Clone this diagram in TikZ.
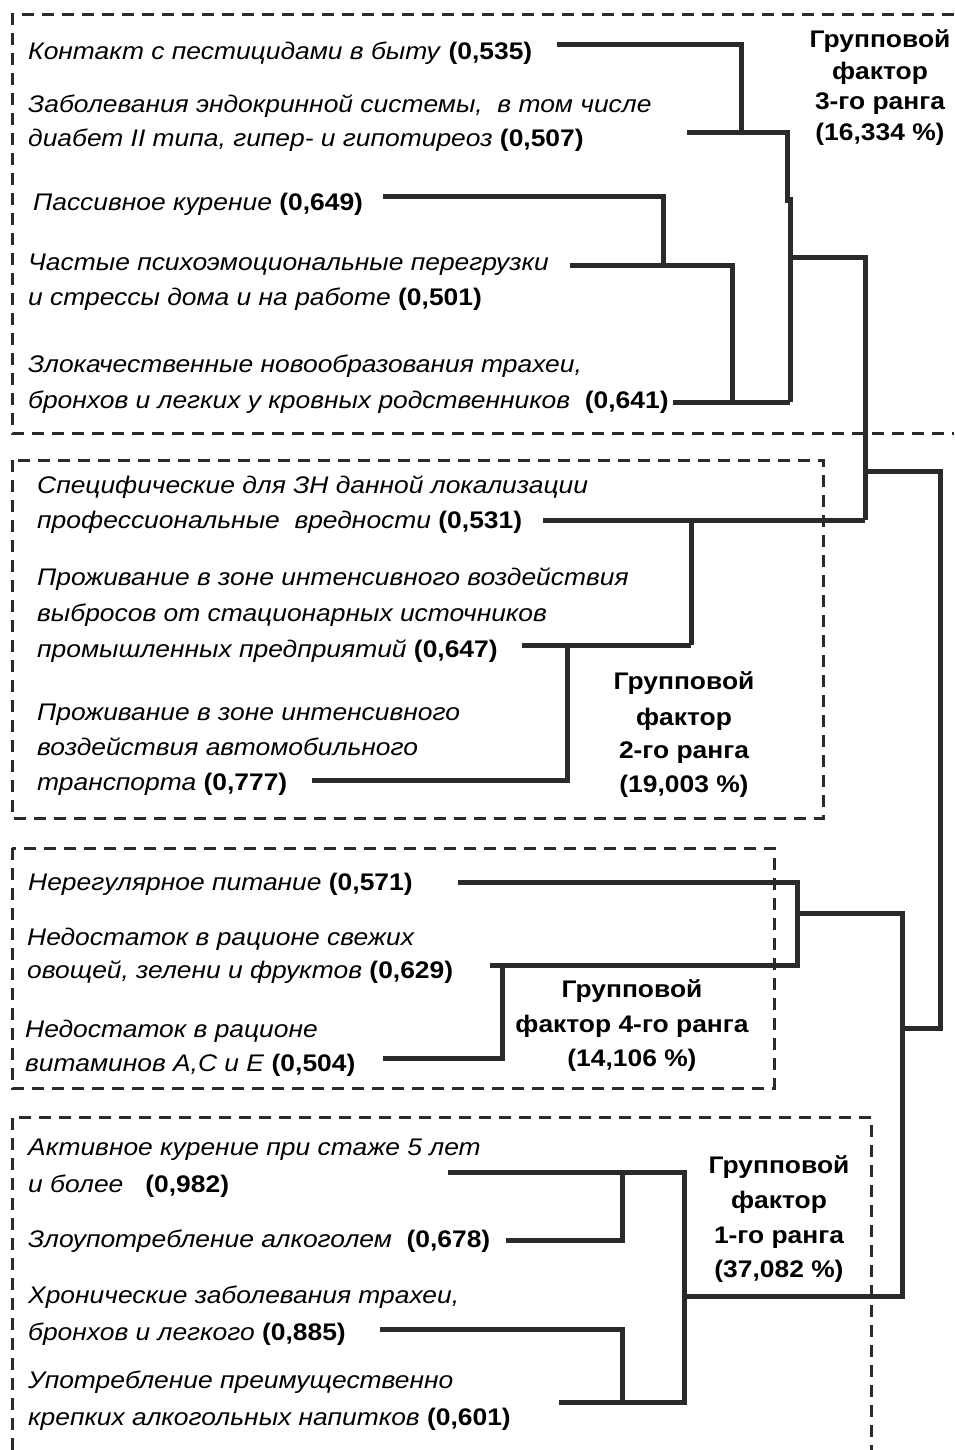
\documentclass[tikz,border=0pt]{standalone}
\usepackage{fontspec}
\setmainfont{Liberation Sans}[FakeStretch=1.1]
\definecolor{ln}{HTML}{2A2A2A}
\newcommand{\nm}[1]{\textup{\textbf{#1}}}
\begin{document}
\begin{tikzpicture}[x=1pt,y=-1pt,
  itm/.style={anchor=base west, inner sep=0pt, font=\fontsize{24}{30}\selectfont\itshape},
  grp/.style={anchor=base, inner sep=0pt, font=\fontsize{24}{30}\selectfont\bfseries},
  conn/.style={draw=ln, line width=5pt},
  frame/.style={draw=ln, line width=3pt, dash pattern=on 12pt off 8pt}]
\useasboundingbox[fill=white] (0,0) rectangle (954,1450);

% frames
\draw[frame] (954,15) -- (12,15) -- (12,433) -- (954,433);
\draw[frame] (12,460) rectangle (823,818);
\draw[frame] (12,848) rectangle (774,1088);
\draw[frame] (12,1450) -- (12,1117) -- (871,1117) -- (871,1450);

% box 3 texts
\node[itm] (t1) at (28,60) {Контакт с пестицидами в быту \nm{(0,535)}};
\node[itm] (t2) at (28,113) {Заболевания эндокринной системы,\ \ в том числе};
\node[itm] (t3) at (28,147) {диабет II типа, гипер- и гипотиреоз \nm{(0,507)}};
\node[itm] (t4) at (33,211) {Пассивное курение \nm{(0,649)}};
\node[itm] (t5) at (28,270) {Частые психоэмоциональные перегрузки};
\node[itm] (t6) at (28,305) {и стрессы дома и на работе \nm{(0,501)}};
\node[itm] (t7) at (28,372) {Злокачественные новообразования трахеи,};
\node[itm] (t8) at (28,408) {бронхов и легких у кровных родственников\ \ \nm{(0,641)}};
\node[grp] (g3a) at (880,48) {Групповой};
\node[grp] (g3b) at (880,80) {фактор};
\node[grp] (g3c) at (880,110) {3-го ранга};
\node[grp] (g3d) at (880,141) {(16,334 \%)};

% box 2 texts
\node[itm] (t9) at (37,493) {Специфические для ЗН данной локализации};
\node[itm] (t10) at (37,528) {профессиональные\ \ вредности \nm{(0,531)}};
\node[itm] (t11) at (37,585) {Проживание в зоне интенсивного воздействия};
\node[itm] (t12) at (37,621) {выбросов от стационарных источников};
\node[itm] (t13) at (37,657) {промышленных предприятий \nm{(0,647)}};
\node[itm] (t14) at (37,720) {Проживание в зоне интенсивного};
\node[itm] (t15) at (37,755) {воздействия автомобильного};
\node[itm] (t16) at (37,790) {транспорта \nm{(0,777)}};
\node[grp] (g2a) at (684,689) {Групповой};
\node[grp] (g2b) at (684,725) {фактор};
\node[grp] (g2c) at (684,758) {2-го ранга};
\node[grp] (g2d) at (684,792) {(19,003 \%)};

% box 4 texts
\node[itm] (t17) at (28,890) {Нерегулярное питание \nm{(0,571)}};
\node[itm] (t18) at (27,945) {Недостаток в рационе свежих};
\node[itm] (t19) at (27,978) {овощей, зелени и фруктов \nm{(0,629)}};
\node[itm] (t20) at (25,1037) {Недостаток в рационе};
\node[itm] (t21) at (25,1071) {витаминов А,С и Е \nm{(0,504)}};
\node[grp] (g4a) at (632,997) {Групповой};
\node[grp] (g4b) at (632,1032) {фактор 4-го ранга};
\node[grp] (g4c) at (632,1066) {(14,106 \%)};

% box 1 texts
\node[itm] (t22) at (28,1155) {Активное курение при стаже 5 лет};
\node[itm] (t23) at (28,1192) {и более\ \ \ \nm{(0,982)}};
\node[itm] (t24) at (28,1247) {Злоупотребление алкоголем\ \ \nm{(0,678)}};
\node[itm] (t25) at (28,1303) {Хронические заболевания трахеи,};
\node[itm] (t26) at (28,1340) {бронхов и легкого \nm{(0,885)}};
\node[itm] (t27) at (28,1388) {Употребление преимущественно};
\node[itm] (t28) at (28,1425) {крепких алкогольных напитков \nm{(0,601)}};
\node[grp] (g1a) at (779,1173) {Групповой};
\node[grp] (g1b) at (779,1208) {фактор};
\node[grp] (g1c) at (779,1243) {1-го ранга};
\node[grp] (g1d) at (779,1277) {(37,082 \%)};

% connector coordinates
\coordinate (e1) at (557,45);  \coordinate (a1) at (741,45);  \coordinate (a2) at (741,133);
\coordinate (e2) at (687,133); \coordinate (b1) at (787,133); \coordinate (b2) at (787,203);
\coordinate (b3) at (790,197); \coordinate (b4) at (790,402);
\coordinate (e4) at (383,197); \coordinate (c1) at (663,197); \coordinate (c2) at (663,265);
\coordinate (e6) at (570,265); \coordinate (d1) at (732,265); \coordinate (d2) at (732,402);
\coordinate (e8) at (673,402);
\coordinate (f1) at (790,257); \coordinate (f2) at (865,257); \coordinate (f3) at (865,520);
\coordinate (e10) at (543,520); \coordinate (h1) at (691,520); \coordinate (h2) at (691,645);
\coordinate (e13) at (522,645); \coordinate (i1) at (567,645); \coordinate (i2) at (567,780);
\coordinate (e16) at (312,780);
\coordinate (r1) at (866,471); \coordinate (r2) at (940,471); \coordinate (r3) at (940,1028);
\coordinate (r4) at (902,1028);
\coordinate (e17) at (458,882); \coordinate (k1) at (797,882); \coordinate (k2) at (797,965);
\coordinate (e19) at (490,965); \coordinate (l1) at (502,965); \coordinate (l2) at (502,1058);
\coordinate (e21) at (383,1058);
\coordinate (m1) at (797,913); \coordinate (m2) at (902,913); \coordinate (m3) at (902,1296);
\coordinate (m4) at (687,1296);
\coordinate (e23) at (448,1172); \coordinate (n1) at (684,1172); \coordinate (n2) at (684,1402);
\coordinate (e28) at (559,1402);
\coordinate (o1) at (622,1172); \coordinate (o2) at (622,1240); \coordinate (e24) at (506,1240);
\coordinate (e26) at (380,1329); \coordinate (p1) at (622,1329); \coordinate (p2) at (622,1402);

% connectors
\draw[conn] (e1) -- (a1) -- (a2);
\draw[conn] (e2) -- (b1) -- (b2);
\draw[conn] (b3) -- (b4);
\draw[conn] (e4) -- (c1) -- (c2);
\draw[conn] (e6) -- (d1) -- (d2);
\draw[conn] (e8) -- (b4);
\draw[conn] (f1) -- (f2) -- (f3);
\draw[conn] (e10) -- (f3);
\draw[conn] (h1) -- (h2);
\draw[conn] (e13) -- (h2);
\draw[conn] (i1) -- (i2) -- (e16);
\draw[conn] (r1) -- (r2) -- (r3) -- (r4);
\draw[conn] (e17) -- (k1) -- (k2) -- (e19);
\draw[conn] (l1) -- (l2) -- (e21);
\draw[conn] (m1) -- (m2) -- (m3) -- (m4);
\draw[conn] (e23) -- (n1) -- (n2) -- (e28);
\draw[conn] (o1) -- (o2) -- (e24);
\draw[conn] (e26) -- (p1) -- (p2);
\end{tikzpicture}
\end{document}
